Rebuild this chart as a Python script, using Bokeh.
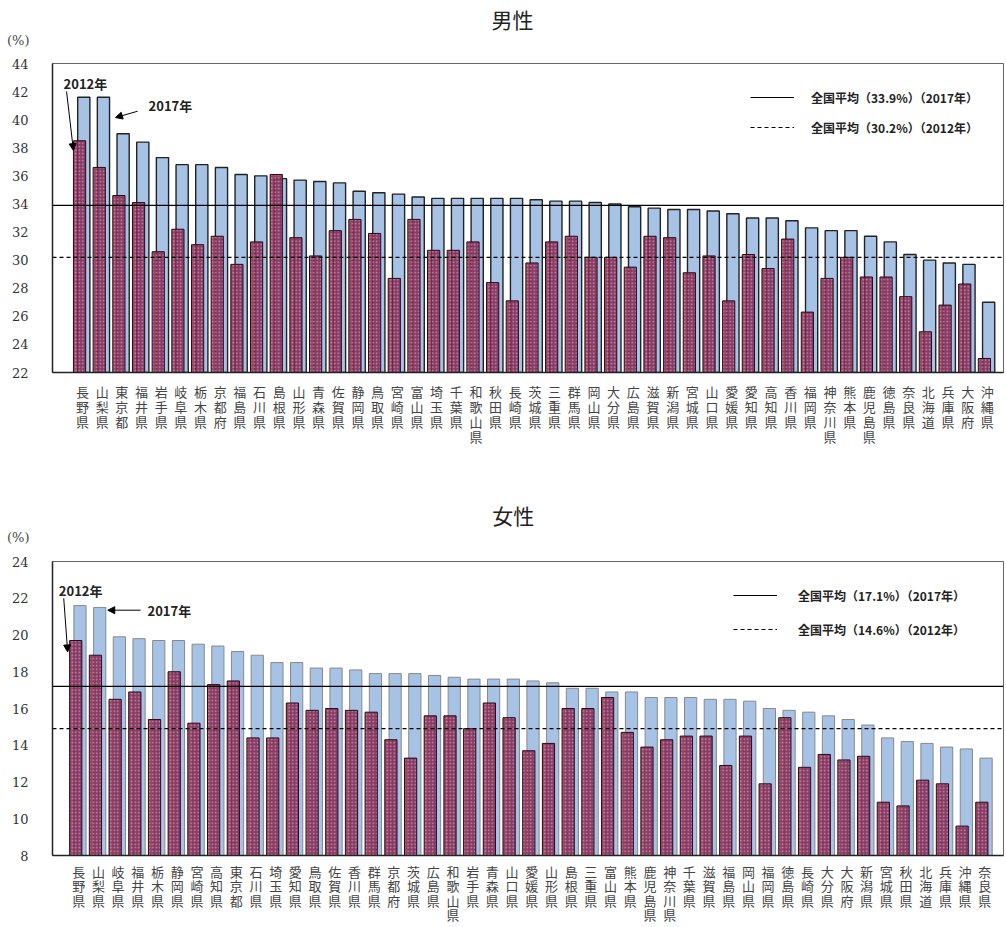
from bokeh.plotting import figure
from bokeh.models import (Range1d, FixedTicker, Legend, LegendItem,
                          Arrow, NormalHead, Label)
from bokeh.layouts import column
from bokeh.embed import file_html
from bokeh.resources import INLINE

# ---------------- data ----------------
male_pref = ["長野県", "山梨県", "東京都", "福井県", "岩手県", "岐阜県", "栃木県", "京都府",
             "福島県", "石川県", "島根県", "山形県", "青森県", "佐賀県", "静岡県", "鳥取県",
             "宮崎県", "富山県", "埼玉県", "千葉県", "和歌山県", "秋田県", "長崎県", "茨城県",
             "三重県", "群馬県", "岡山県", "大分県", "広島県", "滋賀県", "新潟県", "宮城県",
             "山口県", "愛媛県", "愛知県", "高知県", "香川県", "福岡県", "神奈川県", "熊本県",
             "鹿児島県", "徳島県", "奈良県", "北海道", "兵庫県", "大阪府", "沖縄県"]
male_2017 = [41.6, 41.6, 39.0, 38.4, 37.3, 36.8, 36.8, 36.6, 36.1, 36.0, 35.8, 35.7, 35.6,
             35.5, 34.9, 34.8, 34.7, 34.5, 34.4, 34.4, 34.4, 34.4, 34.4, 34.3, 34.2, 34.2,
             34.1, 34.0, 33.8, 33.7, 33.6, 33.6, 33.5, 33.3, 33.0, 33.0, 32.8, 32.3, 32.1,
             32.1, 31.7, 31.3, 30.4, 30.0, 29.8, 29.7, 27.0]
male_2012 = [38.5, 36.6, 34.6, 34.1, 30.6, 32.2, 31.1, 31.7, 29.7, 31.3, 36.1, 31.6, 30.3,
             32.1, 32.9, 31.9, 28.7, 32.9, 30.7, 30.7, 31.3, 28.4, 27.1, 29.8, 31.3, 31.7,
             30.2, 30.2, 29.5, 31.7, 31.6, 29.1, 30.3, 27.1, 30.4, 29.4, 31.5, 26.3, 28.7,
             30.2, 28.8, 28.8, 27.4, 24.9, 26.8, 28.3, 23.0]
male_avg_2017 = 33.9
male_avg_2012 = 30.2
male_labels = ["全国平均（33.9%）（2017年）", "全国平均（30.2%）（2012年）"]

female_pref = ["長野県", "山梨県", "岐阜県", "福井県", "栃木県", "静岡県", "宮崎県", "高知県",
               "東京都", "石川県", "埼玉県", "愛知県", "鳥取県", "佐賀県", "香川県", "群馬県",
               "京都府", "茨城県", "広島県", "和歌山県", "岩手県", "青森県", "山口県", "愛媛県",
               "山形県", "島根県", "三重県", "富山県", "熊本県", "鹿児島県", "神奈川県", "千葉県",
               "滋賀県", "福島県", "岡山県", "福岡県", "徳島県", "長崎県", "大分県", "大阪府",
               "新潟県", "宮城県", "秋田県", "北海道", "兵庫県", "沖縄県", "奈良県"]
female_2017 = [21.6, 21.5, 19.9, 19.8, 19.7, 19.7, 19.5, 19.4, 19.1, 18.9, 18.5, 18.5, 18.2,
               18.2, 18.1, 17.9, 17.9, 17.9, 17.8, 17.7, 17.6, 17.6, 17.6, 17.5, 17.4, 17.1,
               17.1, 16.9, 16.9, 16.6, 16.6, 16.6, 16.5, 16.5, 16.4, 16.0, 15.9, 15.8, 15.6,
               15.4, 15.1, 14.4, 14.2, 14.1, 13.9, 13.8, 13.3]
female_2012 = [19.7, 18.9, 16.5, 16.9, 15.4, 18.0, 15.2, 17.3, 17.5, 14.4, 14.4, 16.3, 15.9,
               16.0, 15.9, 15.8, 14.3, 13.3, 15.6, 15.6, 14.9, 16.3, 15.5, 13.7, 14.1, 16.0,
               16.0, 16.6, 14.7, 13.9, 14.3, 14.5, 14.5, 12.9, 14.5, 11.9, 15.5, 12.8, 13.5,
               13.2, 13.4, 10.9, 10.7, 12.1, 11.9, 9.6, 10.9]
female_avg_2017 = 17.2   # position of the drawn line
female_avg_2012 = 14.9   # position of the drawn line
female_labels = ["全国平均（17.1%）（2017年）", "全国平均（14.6%）（2012年）"]

# ---------------- style ----------------
JP = "Noto Sans CJK JP"
SERIF = "DejaVu Serif"
BLUE = "#a6c3e6"
RED = "#82224a"
OFF17, OFF12, BW = 0.065, -0.15, 0.62
W = 1006


def header(h, ttl, xr, t_xy, unit_y):
    f = figure(width=W, height=h, x_range=Range1d(*xr), y_range=Range1d(0, h),
               output_backend="svg", toolbar_location=None, x_axis_type=None,
               min_border_top=0, min_border_bottom=0, min_border_right=3)
    f.outline_line_color = None
    f.grid.visible = False
    f.add_layout(Label(x=t_xy[0], y=t_xy[1], text=ttl, text_align="center",
                       text_baseline="middle", text_font=JP, text_font_size="21px",
                       text_color="#222"))
    # "(%)" unit label rendered as the only tick label of a bare left axis
    f.yaxis.ticker = FixedTicker(ticks=[unit_y])
    f.yaxis.major_label_overrides = {unit_y: "(%)"}
    f.yaxis.axis_line_color = None
    f.yaxis.major_tick_line_color = None
    f.yaxis.minor_tick_line_color = None
    f.yaxis.major_label_text_font = SERIF
    f.yaxis.major_label_text_font_size = "13px"
    f.yaxis.major_label_text_color = "#444"
    f.yaxis.major_label_standoff = 17
    return f


def build(prefs, v17, v12, ymin, ymax, avg17, avg12, labels, height, b_top,
          b_bottom, b_left, xr, leg_xy, leg_spacing, leg_standoff, blue_line, blue_w, ann,
          lab_standoff, lab_lh):
    n = len(prefs)
    idx = list(range(n))
    p = figure(width=W, height=height, x_range=Range1d(*xr), y_range=Range1d(ymin, ymax),
               output_backend="svg", toolbar_location=None, min_border_left=b_left,
               min_border_right=3, min_border_top=b_top, min_border_bottom=b_bottom)
    p.vbar(x=[i + OFF17 for i in idx], top=v17, bottom=ymin, width=BW, fill_color=BLUE,
           line_color=blue_line, line_width=blue_w)
    p.vbar(x=[i + OFF12 for i in idx], top=v12, bottom=ymin, width=BW, fill_color=RED,
           fill_alpha=0.85, hatch_pattern="dot", hatch_color="#d8b8d4", hatch_scale=3.5,
           hatch_weight=1, hatch_alpha=0.7, line_color="#2a0a18", line_width=1)

    r1 = p.line(x=list(xr), y=[avg17, avg17], line_color="black", line_width=1.2)
    r2 = p.line(x=list(xr), y=[avg12, avg12], line_color="black", line_width=1.2,
                line_dash="4 3")
    leg = Legend(items=[LegendItem(label=labels[0], renderers=[r1]),
                        LegendItem(label=labels[1], renderers=[r2])],
                 location=leg_xy, glyph_width=44, glyph_height=20, label_standoff=leg_standoff,
                 spacing=leg_spacing, padding=0, margin=0, border_line_color=None,
                 background_fill_alpha=0, label_text_font=JP, label_text_font_size="12px",
                 label_text_font_style="bold", label_text_color="#222")
    p.add_layout(leg)

    # annotations "2012年" / "2017年"
    for (tx, ty, txt, x0, y0, x1, y1) in ann:
        p.add_layout(Label(x=tx, y=ty, text=txt, text_align="center", text_baseline="middle",
                           text_font=JP, text_font_size="13px", text_font_style="bold",
                           text_color="#222"))
        p.add_layout(Arrow(end=NormalHead(size=7, fill_color="black", line_color="black"),
                           x_start=x0, y_start=y0, x_end=x1, y_end=y1,
                           line_color="black", line_width=1))

    p.xaxis.ticker = FixedTicker(ticks=idx)
    p.xaxis.major_label_overrides = {i: "\n".join(name) for i, name in enumerate(prefs)}
    p.xaxis.major_tick_line_color = None
    p.xaxis.minor_tick_line_color = None
    p.xaxis.major_label_text_font = JP
    p.xaxis.major_label_text_font_size = "13px"
    p.xaxis.major_label_text_line_height = lab_lh
    p.xaxis.major_label_text_color = "#444"
    p.xaxis.major_label_standoff = lab_standoff
    p.xaxis.axis_line_color = "#222"
    p.xaxis.axis_line_width = 1.5

    p.yaxis.ticker = FixedTicker(ticks=list(range(ymin, ymax + 1, 2)))
    p.yaxis.major_tick_line_color = None
    p.yaxis.minor_tick_line_color = None
    p.yaxis.major_label_text_font = SERIF
    p.yaxis.major_label_text_font_size = "13px"
    p.yaxis.major_label_text_color = "#333"
    p.yaxis.major_label_standoff = 18
    p.yaxis.axis_line_color = "#222"
    p.yaxis.axis_line_width = 1.5

    p.grid.visible = False
    p.outline_line_color = "#666"
    p.background_fill_color = "white"
    return p


ann_m = [
    (0.15, male_2017[0] + 1.0, "2012年", -0.81, male_2017[0] + 0.4,
     OFF12 - BW / 2, male_2012[0] - 0.7),
    (4.47, male_2017[1] - 0.6, "2017年", 2.8, male_2017[1] - 1.0,
     1 + OFF17 + BW / 2 + 0.3, male_2017[1] - 1.45),
]
ann_f = [
    (0.1, female_2017[0] + 0.83, "2012年", -0.76, female_2017[0] + 0.4,
     OFF12 - BW / 2 - 0.1, female_2012[0] - 0.62),
    (4.6, female_2017[1] - 0.15, "2017年", 3.14, female_2017[1] - 0.15,
     1 + OFF17 + BW / 2 + 0.1, female_2017[1] - 0.15),
]

xr1 = (-1.525, 46.82)
xr2 = (-1.33, 46.95)
h1 = header(50, "男性", xr1, (21.86, 32), 10)
p1 = build(male_pref, male_2017, male_2012, 22, 44, male_avg_2017, male_avg_2012,
           male_labels, 448, 13, 126, 52, xr1, (698, 235), 10, 17, "#222", 1.4, ann_m,
           3, 0.8)
h2 = header(50, "女性", xr2, (22.06, 34), 11)
p2 = build(female_pref, female_2017, female_2012, 8, 24, female_avg_2017,
           female_avg_2012, female_labels, 379, 13, 70, 52, xr2, (681, 216), 14,
           21, "#888", 1.0, ann_f, 0, 0.77)

layout = column(h1, p1, h2, p2)
open("out.html", "w").write(file_html(layout, INLINE))
